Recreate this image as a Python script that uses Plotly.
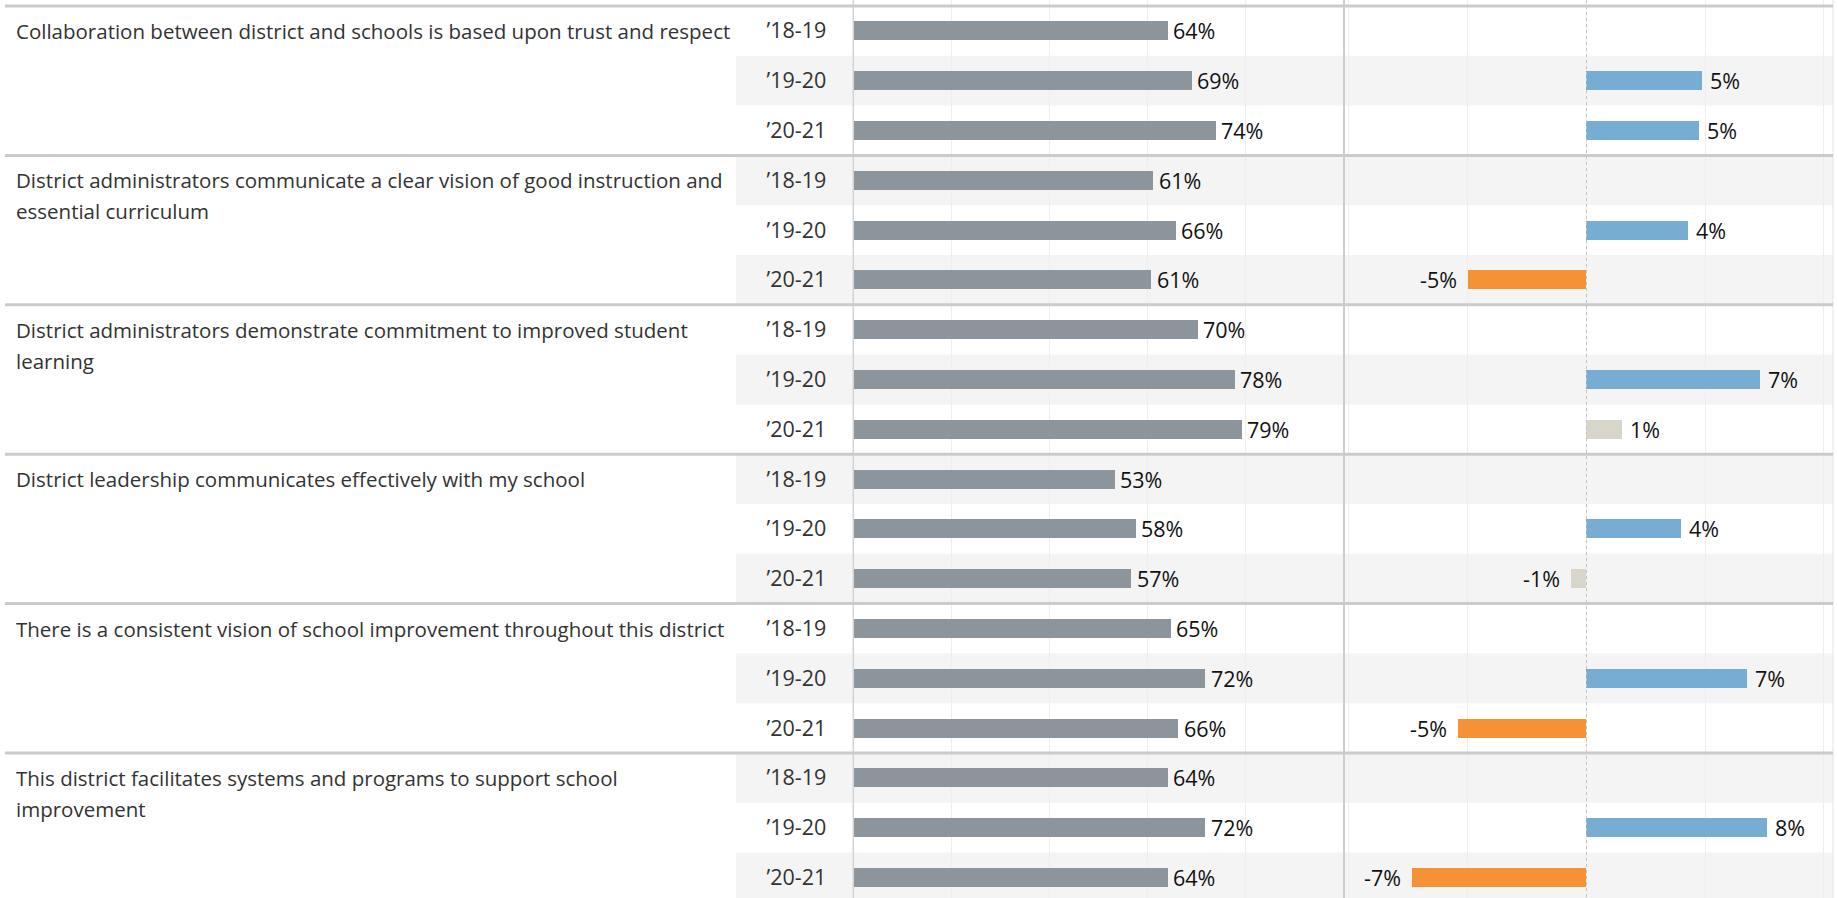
import plotly.graph_objects as go

# ---------------- data ----------------
question_lines = [
    ["Collaboration between district and schools is based upon trust and respect"],
    ["District administrators communicate a clear vision of good instruction and", "essential curriculum"],
    ["District administrators demonstrate commitment to improved student", "learning"],
    ["District leadership communicates effectively with my school"],
    ["There is a consistent vision of school improvement throughout this district"],
    ["This district facilitates systems and programs to support school", "improvement"],
]
years = ["\u201918-19", "\u201919-20", "\u201920-21"]

pct_18_19 = [64.1, 61.2, 70.3, 53.3, 64.8, 64.1]
pct_19_20 = [69.1, 65.8, 77.8, 57.6, 71.8, 71.8]
pct_20_21 = [73.9, 60.8, 79.2, 56.7, 66.3, 64.1]

chg_19_20 = [4.88, 4.29, 7.30, 4.00, 6.76, 7.60]
chg_20_21 = [4.74, -4.98, 1.48, -0.64, -5.43, -7.35]

# ---------------- layout constants ----------------
W, H = 1837, 898
ROW_PX = 49.8
TOP_PX = 6.0
n_groups = len(question_lines)
n_rows = n_groups * 3
y_top = -0.5 - TOP_PX / ROW_PX
y_bot = -0.5 + (H - TOP_PX) / ROW_PX

LEFT_AX = 853.3
DIVIDER = 1344.0
RIGHT_END = 1833.0
STRIPE_X0 = 736.0

GRAY = "#8c959c"
BLUE = "#77acd3"
ORANGE = "#f59235"
BEIGE = "#d8d5ca"
FONT = "Open Sans"
FS_Q = 20.5
FS_Y = 21.5
FS_V = 21.5

# ---------------- build rows ----------------
rows, row_text, left_vals = [], [], []
for g in range(n_groups):
    for k, series in enumerate([pct_18_19, pct_19_20, pct_20_21]):
        r = 3 * g + k
        rows.append(r)
        row_text.append(years[k])
        left_vals.append(series[g])

chg_rows, chg_vals = [], []
for g in range(n_groups):
    chg_rows += [3 * g + 1, 3 * g + 2]
    chg_vals += [chg_19_20[g], chg_20_21[g]]


def chg_color(v):
    if v >= 2:
        return BLUE
    if v <= -2:
        return ORANGE
    return BEIGE


fig = go.Figure()
fig.add_trace(go.Bar(
    orientation="h", x=left_vals, y=rows, xaxis="x", yaxis="y",
    marker=dict(color=GRAY, line=dict(width=0)), width=0.38,
    hoverinfo="skip",
))
fig.add_trace(go.Bar(
    orientation="h", x=chg_vals, y=chg_rows, xaxis="x2", yaxis="y",
    marker=dict(color=[chg_color(v) for v in chg_vals], line=dict(width=0)), width=0.38,
    hoverinfo="skip",
))

shapes = []
for r in range(n_rows):
    if r % 2 == 1:
        shapes.append(dict(type="rect", xref="paper", yref="y",
                           x0=STRIPE_X0 / W, x1=RIGHT_END / W, y0=r - 0.5, y1=r + 0.5,
                           fillcolor="#f4f4f4", line=dict(width=0), layer="below"))
for xp, col, wd in [(LEFT_AX, "#d3d3d3", 1.5), (DIVIDER, "#cdcdcd", 2), (RIGHT_END, "#e4e4e4", 1)]:
    shapes.append(dict(type="line", xref="paper", yref="y", x0=xp / W, x1=xp / W,
                       y0=y_top, y1=y_bot, line=dict(color=col, width=wd), layer="above"))
shapes.append(dict(type="line", xref="x2", yref="y", x0=0, x1=0, y0=y_top, y1=y_bot,
                   line=dict(color="#c4c4c4", width=1, dash="dot"), layer="above"))
for g in range(n_groups + 1):
    yy = 3 * g - 0.5
    shapes.append(dict(type="line", xref="paper", yref="y", x0=5 / W, x1=RIGHT_END / W,
                       y0=yy, y1=yy, line=dict(color="#cbcbcb", width=3), layer="above"))

annotations = []
LINE_GAP = 31.0 / ROW_PX
for g, lines in enumerate(question_lines):
    for i, ln in enumerate(lines):
        annotations.append(dict(
            xref="paper", yref="y", x=14 / W, y=3 * g + i * LINE_GAP,
            xanchor="left", yanchor="middle", text=ln, showarrow=False,
            font=dict(family=FONT, size=FS_Q, color="#333333"),
        ))

# value labels
for v, r in zip(left_vals, rows):
    annotations.append(dict(xref="x", yref="y", x=v, y=r, xanchor="left", yanchor="middle",
                            xshift=3, text=f"{round(v)}%", showarrow=False,
                            font=dict(family=FONT, size=FS_V, color="#111111")))
for v, r in zip(chg_vals, chg_rows):
    pos = v >= 0
    annotations.append(dict(xref="x2", yref="y", x=v, y=r,
                            xanchor="left" if pos else "right", yanchor="middle",
                            xshift=6 if pos else -9, text=f"{round(v)}%", showarrow=False,
                            font=dict(family=FONT, size=FS_V, color="#111111")))

fig.update_layout(
    width=W, height=H, margin=dict(l=0, r=0, t=0, b=0, autoexpand=False),
    paper_bgcolor="white", plot_bgcolor="rgba(0,0,0,0)",
    showlegend=False, bargap=0,
    shapes=shapes, annotations=annotations,
    xaxis=dict(domain=[LEFT_AX / W, DIVIDER / W], range=[0, 100], dtick=20, tick0=0,
               showgrid=True, gridcolor="#eeeeee", gridwidth=1, zeroline=False,
               showticklabels=False, showline=False, fixedrange=True),
    xaxis2=dict(domain=[DIVIDER / W, RIGHT_END / W], range=[-10.21, 10.38], dtick=5, tick0=0,
                showgrid=True, gridcolor="#eeeeee", gridwidth=1, zeroline=False,
                showticklabels=False, showline=False, anchor="y", fixedrange=True),
    yaxis=dict(range=[y_bot, y_top], tickmode="array", tickvals=rows, ticktext=row_text,
               showgrid=False, zeroline=False, showline=False, ticks="",
               tickfont=dict(family=FONT, size=FS_Y, color="#333333"),
               ticklabelstandoff=26, fixedrange=True),
)

fig.write_html("out.html", config={"displayModeBar": False},
               post_script="document.body.style.margin='0px';")
